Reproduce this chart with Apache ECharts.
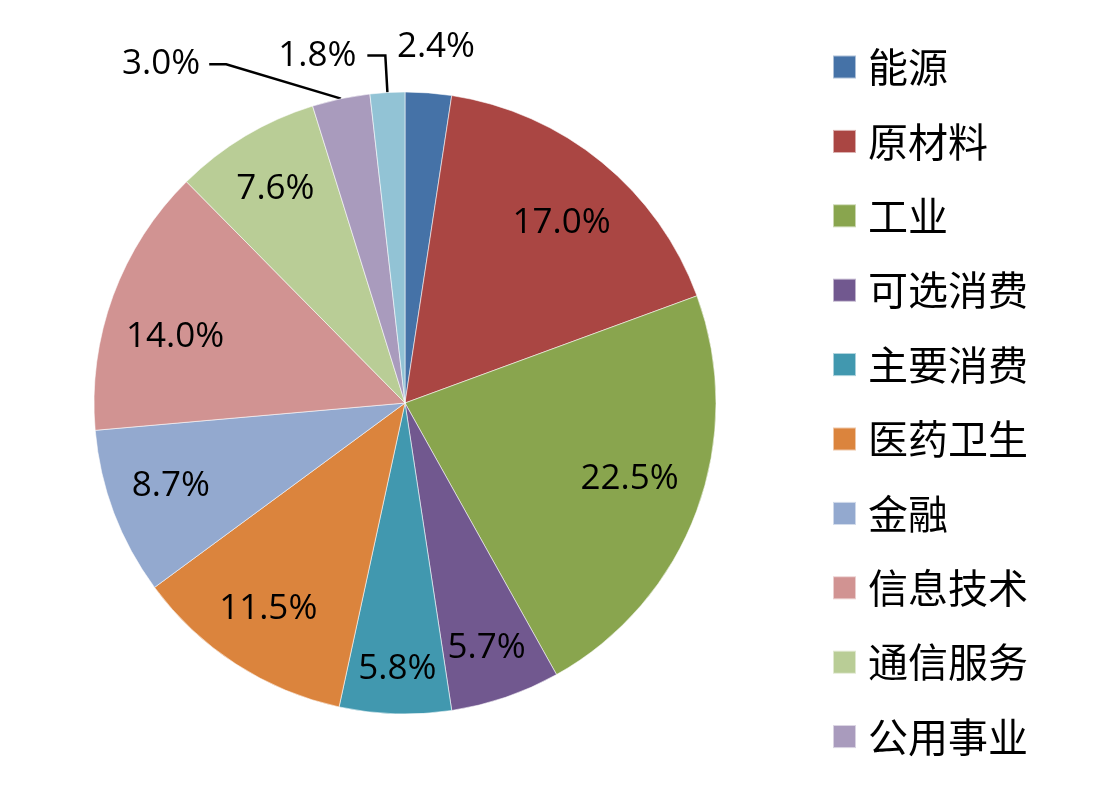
<!DOCTYPE html>
<html>
<head>
<meta charset="utf-8">
<script src="https://cdn.jsdelivr.net/npm/echarts@6/dist/echarts.min.js"></script>
<style>
html,body{margin:0;padding:0;background:#fff;}
#main{width:1110px;height:806px;}
</style>
</head>
<body>
<div id="main"></div>
<script>
// ---- data ----
const categories = ['能源','原材料','工业','可选消费','主要消费','医药卫生','金融','信息技术','通信服务','公用事业','房地产'];
const shares = [2.4, 17.0, 22.5, 5.7, 5.8, 11.5, 8.7, 14.0, 7.6, 3.0, 1.8];
const legendItems = ['能源','原材料','工业','可选消费','主要消费','医药卫生','金融','信息技术','通信服务','公用事业'];

// ---- styles ----
const colors = ['#4572A7','#AA4643','#89A54E','#71588F','#4198AF','#DB843D','#93A9CF','#D19392','#B9CD96','#A99BBD','#92C3D5'];
const outsideLabels = {
  '能源':   {line:false, length:46, length2:-40, dist:5,   pad:[0,0,0,0],   suffix:'',       reguide:false},
  '公用事业': {line:true,  length:28, length2:17,  dist:110, pad:[0,10,18,0], suffix:'\u00a0', reguide:true},
  '房地产':  {line:true,  length:37, length2:18,  dist:11,  pad:[0,0,16,0],  suffix:'',       reguide:false}
};
// small nudges of inner labels (Excel "best fit" placement)
const innerNudge = {
  '原材料':[1,11], '工业':[-6,-9], '可选消费':[2,12], '主要消费':[0,20],
  '医药卫生':[-3,0], '金融':[-4,-4], '信息技术':[1,19], '通信服务':[-3,-3]
};
const CENTER = [405, 403];
const R = 311;
const labelFont = {fontFamily:'Open Sans', fontSize:35, color:'#000'};
const fmt = p => p.value.toFixed(1) + '%';

const mainData = categories.map((name, i) => {
  const o = outsideLabels[name];
  const item = {name, value: shares[i], itemStyle:{color: colors[i]}};
  if (o) {
    item.label = {show:true, position:'outside', distanceToLabelLine:o.dist, padding:o.pad,
                  formatter: p => fmt(p) + o.suffix};
    item.labelLine = {show:o.line, length:o.length, length2:o.length2, lineStyle:{color:'#000', width:2.5}};
  } else {
    item.label = {show:false};
    item.labelLine = {show:false};
  }
  return item;
});

const ringData = categories.map((name, i) => ({
  name, value: shares[i],
  label: {show: !outsideLabels[name], offset: innerNudge[name] || [0,0]}
}));

const chart = echarts.init(document.getElementById('main'));
chart.setOption({
  backgroundColor:'#fff',
  animation:false,
  legend:{
    orient:'vertical',
    left:827, top:42,
    data: legendItems,
    icon:'rect',
    itemWidth:23, itemHeight:23,
    itemGap:34.4,
    textStyle:{fontFamily:'Noto Sans CJK SC', fontSize:40, lineHeight:40, color:'#000', padding:[0,0,0,7]},
    selectedMode:false
  },
  series:[
    {
      type:'pie',
      center:CENTER,
      radius:R,
      startAngle:90,
      clockwise:true,
      avoidLabelOverlap:false,
      itemStyle:{borderColor:'rgba(255,255,255,0.55)', borderWidth:1},
      label:Object.assign({formatter:fmt}, labelFont),
      emphasis:{disabled:true},
      labelLayout: function (p) {
        const o = outsideLabels[categories[p.dataIndex]];
        if (o && o.reguide) {
          // keep the library's label place, but let it re-route the leader line
          return {
            x: p.labelRect.x + p.labelRect.width + 21,
            y: p.labelRect.y + p.labelRect.height / 2 - 7,
            align: 'right',
            verticalAlign: 'middle'
          };
        }
        return {};
      },
      data: mainData
    },
    {
      type:'pie',
      center:CENTER,
      radius:[175, R],
      startAngle:90,
      clockwise:true,
      silent:true,
      avoidLabelOverlap:false,
      itemStyle:{color:'rgba(0,0,0,0)', borderWidth:0},
      label:Object.assign({position:'inside', formatter:fmt}, labelFont),
      labelLine:{show:false},
      emphasis:{disabled:true},
      data: ringData
    }
  ]
});
</script>
</body>
</html>
